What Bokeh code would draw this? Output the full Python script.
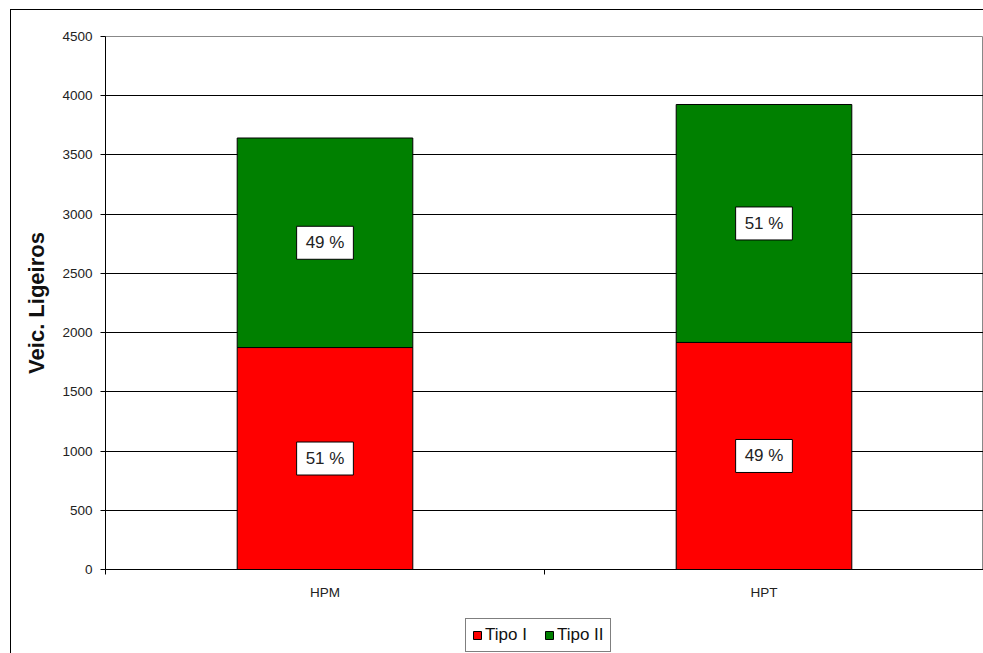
from bokeh.plotting import figure
from bokeh.layouts import column
from bokeh.models import FixedTicker, Legend, LegendItem, Label, ColumnDataSource
from bokeh.embed import file_html
from bokeh.resources import INLINE

categories = ["HPM", "HPT"]
series_names = ["Tipo I", "Tipo II"]
tipo1 = [1874, 1917]
tipo2 = [1769, 2009]
series_colors = ["#FF0000", "#008000"]
y_ticks = [0, 500, 1000, 1500, 2000, 2500, 3000, 3500, 4000, 4500]
y_label = "Veic. Ligeiros"

FONT = "Liberation Sans"

xs = [i + 0.5 for i in range(len(categories))]
source = ColumnDataSource(data={"x": xs, "Tipo I": tipo1, "Tipo II": tipo2})

p = figure(width=972, height=600, x_range=(0, len(categories)), y_range=(0, y_ticks[-1]),
           output_backend="svg", toolbar_location=None,
           min_border_left=94, min_border_top=26, min_border_right=0, min_border_bottom=41)
p.background_fill_color = "white"
p.border_fill_color = "white"
p.outline_line_color = "#888888"

renderers = p.vbar_stack(series_names, x="x", width=0.4, source=source,
                         fill_color=series_colors, line_color="black", line_width=1)

# axes
xa = p.xaxis[0]
xa.ticker = FixedTicker(ticks=xs, minor_ticks=list(range(len(categories) + 1)))
xa.major_label_overrides = {x: c for x, c in zip(xs, categories)}
xa.major_tick_out = 0
xa.major_tick_in = 0
xa.minor_tick_out = 5
xa.minor_tick_in = 0
xa.minor_tick_line_color = "black"
xa.axis_line_color = "black"
xa.major_label_standoff = 10
xa.major_label_text_font = FONT
xa.major_label_text_font_size = "13.5px"
xa.major_label_text_color = "#222222"

ya = p.yaxis[0]
ya.ticker = FixedTicker(ticks=y_ticks)
ya.major_tick_out = 5
ya.major_tick_in = 0
ya.minor_tick_line_color = None
ya.axis_line_color = "black"
ya.major_tick_line_color = "black"
ya.major_label_standoff = 8
ya.major_label_text_font = FONT
ya.major_label_text_font_size = "13.5px"
ya.major_label_text_color = "#222222"
ya.axis_label = y_label
ya.axis_label_text_font = FONT
ya.axis_label_text_font_size = "22px"
ya.axis_label_text_font_style = "bold"
ya.axis_label_text_color = "#111111"
ya.axis_label_standoff = 10

p.xgrid.visible = False
p.ygrid.ticker = FixedTicker(ticks=y_ticks[1:-1])
p.ygrid.grid_line_color = "black"
p.ygrid.grid_line_width = 1

# percentage labels
for i, x in enumerate(xs):
    vals = [tipo1[i], tipo2[i]]
    total = sum(vals)
    bottom = 0
    for v in vals:
        p.add_layout(Label(x=x, y=bottom + v / 2, text=f"{round(100 * v / total)} %",
                           text_align="center", text_baseline="middle",
                           text_font=FONT, text_font_size="17px", text_color="#222222",
                           background_fill_color="white", border_line_color="black",
                           border_line_width=1,
                           padding=dict(left=9, right=9, top=7, bottom=7)))
        bottom += v

# legend strip below the chart (its ranges keep the bars out of view)
pl = figure(width=972, height=43, x_range=(-20, -19), y_range=(-20, -19),
            output_backend="svg", toolbar_location=None,
            x_axis_type=None, y_axis_type=None, min_border=0)
pl.outline_line_color = None
pl.background_fill_color = "white"
pl.border_fill_color = "white"
legend_renderers = pl.vbar_stack(series_names, x="x", width=0.4, source=source,
                                 fill_color=series_colors, line_color="black", line_width=1)

legend = Legend(items=[LegendItem(label=n, renderers=[r]) for n, r in zip(series_names, legend_renderers)],
                orientation="horizontal", location=(360, 1),
                label_text_font=FONT, label_text_font_size="17px", label_text_color="#111111",
                glyph_width=10, glyph_height=10, label_standoff=3, spacing=17,
                padding=6, margin=0, border_line_color="black", border_line_width=1,
                background_fill_color="white")
pl.add_layout(legend, "center")

layout = column(p, pl, spacing=0)
layout.margin = (9, 0, 0, 10)
layout.styles = {"border-top": "1px solid black", "border-left": "1px solid black"}

open("out.html", "w").write(file_html(layout, INLINE))
